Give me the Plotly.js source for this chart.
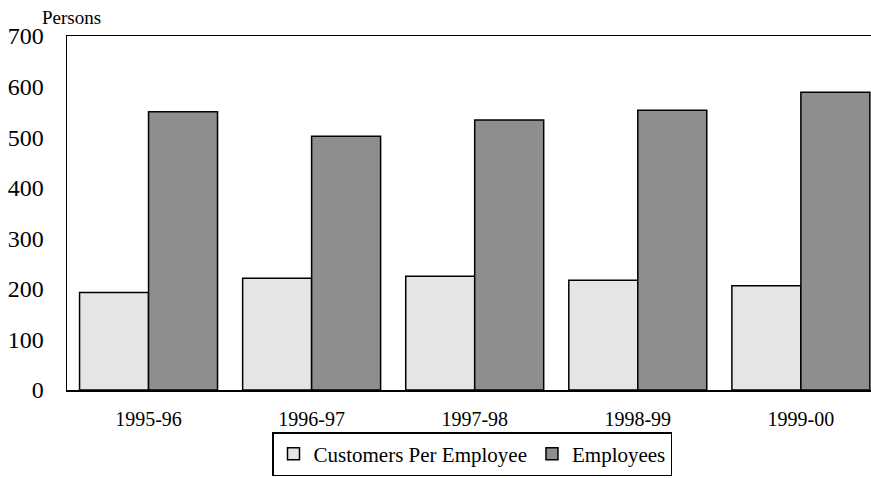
<!DOCTYPE html>
<html>
<head>
<meta charset="utf-8">
<script src="https://cdn.plot.ly/plotly-3.0.1.min.js"></script>
<style>html,body{margin:0;padding:0;background:#fff;}#chart{width:871px;height:478px;}</style>
</head>
<body>
<div id="chart"></div>
<script>
var categories = ["1995-96", "1996-97", "1997-98", "1998-99", "1999-00"];
var customersPerEmployee = [193, 221, 225, 217, 206];
var employees = [550, 502, 534, 553, 589];
var yTicks = [0, 100, 200, 300, 400, 500, 600, 700];

var font = "Liberation Serif";

var traces = [
  {
    type: "bar", name: "Customers Per Employee", x: categories, y: customersPerEmployee,
    marker: {color: "#e5e5e5", line: {color: "#000", width: 1.5}}
  },
  {
    type: "bar", name: "Employees", x: categories, y: employees,
    marker: {color: "#8e8e8e", line: {color: "#000", width: 1.5}}
  }
];

var layout = {
  width: 871, height: 478,
  margin: {l: 67, r: 0, t: 36, b: 88},
  paper_bgcolor: "#fff", plot_bgcolor: "#fff",
  barmode: "group", bargap: 0.154, bargroupgap: 0,
  font: {family: font, color: "#000"},
  showlegend: true,
  legend: {
    orientation: "h", xref: "container", yref: "container",
    x: 472/871, xanchor: "center", y: 2/478, yanchor: "bottom",
    font: {family: font, size: 21, color: "#000"},
    bordercolor: "#000", borderwidth: 1.5, bgcolor: "#fff",
    itemwidth: 30, traceorder: "normal"
  },
  xaxis: {
    type: "category", range: [-0.5, 4.43], fixedrange: true,
    showline: true, linecolor: "#000", linewidth: 1.5, mirror: true,
    showgrid: false, zeroline: false, ticks: "",
    ticklabelstandoff: 10,
    tickfont: {family: font, size: 20, color: "#000"}
  },
  yaxis: {
    range: [0, 700], tickvals: yTicks, ticktext: yTicks.map(String),
    showline: true, linecolor: "#000", linewidth: 1.5, mirror: false,
    showgrid: false, zeroline: false, ticks: "",
    ticklabelstandoff: 17,
    tickfont: {family: font, size: 24, color: "#000"}
  },
  annotations: [{
    text: "Persons", xref: "paper", yref: "paper", x: -27/804, y: 1, xanchor: "left", yanchor: "bottom",
    yshift: 6, showarrow: false, font: {family: font, size: 19, color: "#000"}
  }]
};

Plotly.newPlot("chart", traces, layout, {displayModeBar: false, staticPlot: true});
</script>
</body>
</html>
